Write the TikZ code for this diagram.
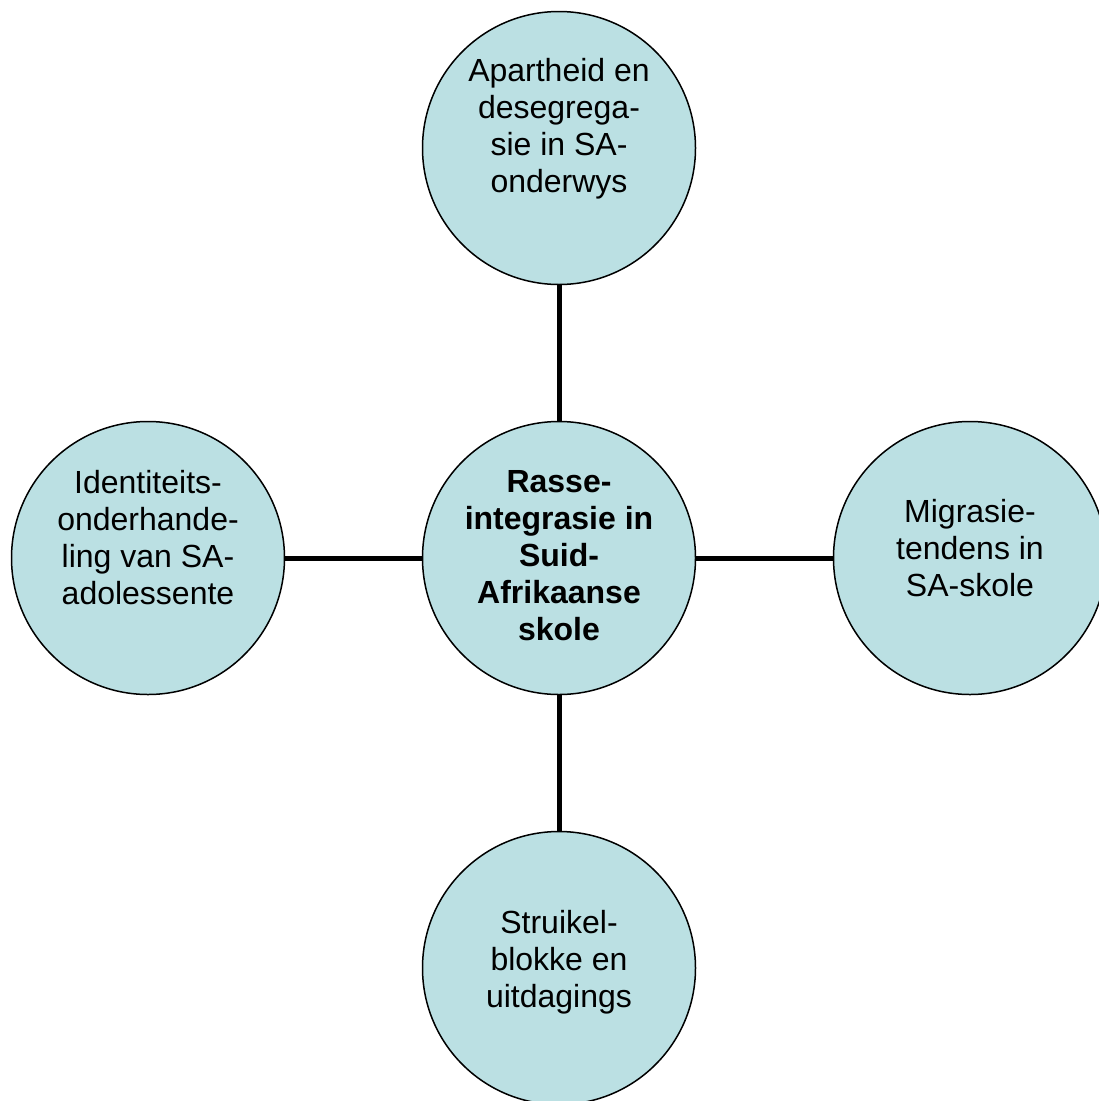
\documentclass[tikz,border=0pt]{standalone}
\usepackage{fontspec}
\setmainfont{Liberation Sans}
\definecolor{bubble}{RGB}{187,224,227}
\begin{document}
\begin{tikzpicture}[x=1pt,y=-1pt,
  bubble/.style={circle,draw=black,line width=1.5pt,fill=bubble,minimum size=273pt,inner sep=0pt},
  label/.style={anchor=north,align=center,inner sep=0pt,font=\fontsize{32pt}{37pt}\selectfont},
  link/.style={line width=5pt,black}]
\useasboundingbox (0,0) rectangle (1099,1101);
\clip (0,0) rectangle (1099,1101);
\node[bubble] (top) at (559,148) {};
\node[bubble] (mid) at (559,558) {};
\node[bubble] (lft) at (148,558) {};
\node[bubble] (rgt) at (970,558) {};
\node[bubble] (bot) at (559,968) {};
\draw[link] (top) -- (mid);
\draw[link] (lft) -- (mid);
\draw[link] (mid) -- (rgt);
\draw[link] (mid) -- (bot);
\node[label] (ttop) at (559,58) {Apartheid en\\desegrega-\\sie in SA-\\onderwys};
\node[label,font=\fontsize{32pt}{37pt}\selectfont\bfseries] (tmid) at (559,470) {Rasse-\\integrasie in\\Suid-\\Afrikaanse\\skole};
\node[label] (tlft) at (148,470) {Identiteits-\\onderhande-\\ling van SA-\\adolessente};
\node[label] (trgt) at (970,499) {Migrasie-\\tendens in\\SA-skole};
\node[label] (tbot) at (559,910) {Struikel-\\blokke en\\uitdagings};
\end{tikzpicture}
\end{document}
